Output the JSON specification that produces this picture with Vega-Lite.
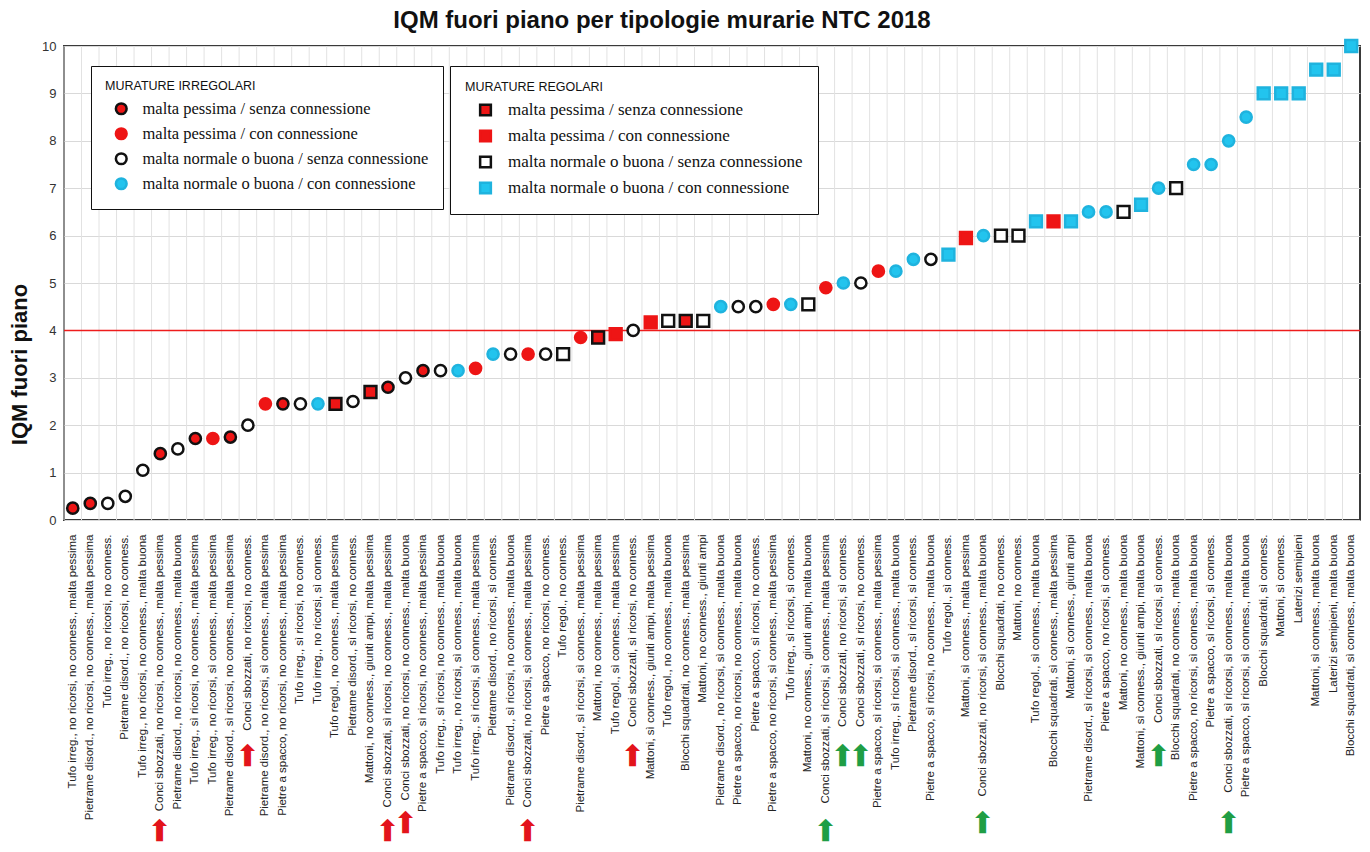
{
  "$schema": "https://vega.github.io/schema/vega-lite/v6.json",
  "width": 1296,
  "height": 474,
  "padding": {"left": 8, "top": 9, "right": 12, "bottom": 0},
  "background": "white",
  "title": {"text": "IQM fuori piano per tipologie murarie NTC 2018", "font": "Liberation Sans", "fontSize": 24, "fontWeight": "bold", "color": "#111111", "anchor": "middle", "frame": "group", "dx": -50, "offset": 2},
  "datasets": {
    "murature": [
      {"n": 1, "etichetta": "Tufo irreg., no ricorsi, no conness., malta pessima", "iqm": 0.25, "gruppo": "irregolare", "tipo": "malta pessima / senza connessione"},
      {"n": 2, "etichetta": "Pietrame disord., no ricorsi, no conness., malta pessima", "iqm": 0.35, "gruppo": "irregolare", "tipo": "malta pessima / senza connessione"},
      {"n": 3, "etichetta": "Tufo irreg., no ricorsi, no conness.", "iqm": 0.35, "gruppo": "irregolare", "tipo": "malta normale o buona / senza connessione"},
      {"n": 4, "etichetta": "Pietrame disord., no ricorsi, no conness.", "iqm": 0.5, "gruppo": "irregolare", "tipo": "malta normale o buona / senza connessione"},
      {"n": 5, "etichetta": "Tufo irreg., no ricorsi, no conness., malta buona", "iqm": 1.05, "gruppo": "irregolare", "tipo": "malta normale o buona / senza connessione"},
      {"n": 6, "etichetta": "Conci sbozzati, no ricorsi, no conness., malta pessima", "iqm": 1.4, "gruppo": "irregolare", "tipo": "malta pessima / senza connessione"},
      {"n": 7, "etichetta": "Pietrame disord., no ricorsi, no conness., malta buona", "iqm": 1.5, "gruppo": "irregolare", "tipo": "malta normale o buona / senza connessione"},
      {"n": 8, "etichetta": "Tufo irreg., sì ricorsi, no conness., malta pessima", "iqm": 1.72, "gruppo": "irregolare", "tipo": "malta pessima / senza connessione"},
      {"n": 9, "etichetta": "Tufo irreg., no ricorsi, sì conness., malta pessima", "iqm": 1.72, "gruppo": "irregolare", "tipo": "malta pessima / con connessione"},
      {"n": 10, "etichetta": "Pietrame disord., sì ricorsi, no conness., malta pessima", "iqm": 1.75, "gruppo": "irregolare", "tipo": "malta pessima / senza connessione"},
      {"n": 11, "etichetta": "Conci sbozzati, no ricorsi, no conness.", "iqm": 2.0, "gruppo": "irregolare", "tipo": "malta normale o buona / senza connessione"},
      {"n": 12, "etichetta": "Pietrame disord., no ricorsi, sì conness., malta pessima", "iqm": 2.45, "gruppo": "irregolare", "tipo": "malta pessima / con connessione"},
      {"n": 13, "etichetta": "Pietre a spacco, no ricorsi, no conness., malta pessima", "iqm": 2.45, "gruppo": "irregolare", "tipo": "malta pessima / senza connessione"},
      {"n": 14, "etichetta": "Tufo irreg., sì ricorsi, no conness.", "iqm": 2.45, "gruppo": "irregolare", "tipo": "malta normale o buona / senza connessione"},
      {"n": 15, "etichetta": "Tufo irreg., no ricorsi, sì conness.", "iqm": 2.45, "gruppo": "irregolare", "tipo": "malta normale o buona / con connessione"},
      {"n": 16, "etichetta": "Tufo regol., no conness., malta pessima", "iqm": 2.45, "gruppo": "regolare", "tipo": "malta pessima / senza connessione"},
      {"n": 17, "etichetta": "Pietrame disord., sì ricorsi, no conness.", "iqm": 2.5, "gruppo": "irregolare", "tipo": "malta normale o buona / senza connessione"},
      {"n": 18, "etichetta": "Mattoni, no conness., giunti ampi, malta pessima", "iqm": 2.7, "gruppo": "regolare", "tipo": "malta pessima / senza connessione"},
      {"n": 19, "etichetta": "Conci sbozzati, sì ricorsi, no conness., malta pessima", "iqm": 2.8, "gruppo": "irregolare", "tipo": "malta pessima / senza connessione"},
      {"n": 20, "etichetta": "Conci sbozzati, no ricorsi, no conness., malta buona", "iqm": 3.0, "gruppo": "irregolare", "tipo": "malta normale o buona / senza connessione"},
      {"n": 21, "etichetta": "Pietre a spacco, sì ricorsi, no conness., malta pessima", "iqm": 3.15, "gruppo": "irregolare", "tipo": "malta pessima / senza connessione"},
      {"n": 22, "etichetta": "Tufo irreg., sì ricorsi, no conness., malta buona", "iqm": 3.15, "gruppo": "irregolare", "tipo": "malta normale o buona / senza connessione"},
      {"n": 23, "etichetta": "Tufo irreg., no ricorsi, sì conness., malta buona", "iqm": 3.15, "gruppo": "irregolare", "tipo": "malta normale o buona / con connessione"},
      {"n": 24, "etichetta": "Tufo irreg., sì ricorsi, sì conness., malta pessima", "iqm": 3.2, "gruppo": "irregolare", "tipo": "malta pessima / con connessione"},
      {"n": 25, "etichetta": "Pietrame disord., no ricorsi, sì conness.", "iqm": 3.5, "gruppo": "irregolare", "tipo": "malta normale o buona / con connessione"},
      {"n": 26, "etichetta": "Pietrame disord., sì ricorsi, no conness., malta buona", "iqm": 3.5, "gruppo": "irregolare", "tipo": "malta normale o buona / senza connessione"},
      {"n": 27, "etichetta": "Conci sbozzati, no ricorsi, sì conness., malta pessima", "iqm": 3.5, "gruppo": "irregolare", "tipo": "malta pessima / con connessione"},
      {"n": 28, "etichetta": "Pietre a spacco, no ricorsi, no conness.", "iqm": 3.5, "gruppo": "irregolare", "tipo": "malta normale o buona / senza connessione"},
      {"n": 29, "etichetta": "Tufo regol., no conness.", "iqm": 3.5, "gruppo": "regolare", "tipo": "malta normale o buona / senza connessione"},
      {"n": 30, "etichetta": "Pietrame disord., sì ricorsi, sì conness., malta pessima", "iqm": 3.85, "gruppo": "irregolare", "tipo": "malta pessima / con connessione"},
      {"n": 31, "etichetta": "Mattoni, no conness., malta pessima", "iqm": 3.85, "gruppo": "regolare", "tipo": "malta pessima / senza connessione"},
      {"n": 32, "etichetta": "Tufo regol., sì conness., malta pessima", "iqm": 3.92, "gruppo": "regolare", "tipo": "malta pessima / con connessione"},
      {"n": 33, "etichetta": "Conci sbozzati, sì ricorsi, no conness.", "iqm": 4.0, "gruppo": "irregolare", "tipo": "malta normale o buona / senza connessione"},
      {"n": 34, "etichetta": "Mattoni, sì conness., giunti ampi, malta pessima", "iqm": 4.17, "gruppo": "regolare", "tipo": "malta pessima / con connessione"},
      {"n": 35, "etichetta": "Tufo regol., no conness., malta buona", "iqm": 4.2, "gruppo": "regolare", "tipo": "malta normale o buona / senza connessione"},
      {"n": 36, "etichetta": "Blocchi squadrati, no conness., malta pessima", "iqm": 4.2, "gruppo": "regolare", "tipo": "malta pessima / senza connessione"},
      {"n": 37, "etichetta": "Mattoni, no conness., giunti ampi", "iqm": 4.2, "gruppo": "regolare", "tipo": "malta normale o buona / senza connessione"},
      {"n": 38, "etichetta": "Pietrame disord., no ricorsi, sì conness., malta buona", "iqm": 4.5, "gruppo": "irregolare", "tipo": "malta normale o buona / con connessione"},
      {"n": 39, "etichetta": "Pietre a spacco, no ricorsi, no conness., malta buona", "iqm": 4.5, "gruppo": "irregolare", "tipo": "malta normale o buona / senza connessione"},
      {"n": 40, "etichetta": "Pietre a spacco, sì ricorsi, no conness.", "iqm": 4.5, "gruppo": "irregolare", "tipo": "malta normale o buona / senza connessione"},
      {"n": 41, "etichetta": "Pietre a spacco, no ricorsi, sì conness., malta pessima", "iqm": 4.55, "gruppo": "irregolare", "tipo": "malta pessima / con connessione"},
      {"n": 42, "etichetta": "Tufo irreg., sì ricorsi, sì conness.", "iqm": 4.55, "gruppo": "irregolare", "tipo": "malta normale o buona / con connessione"},
      {"n": 43, "etichetta": "Mattoni, no conness., giunti ampi, malta buona", "iqm": 4.55, "gruppo": "regolare", "tipo": "malta normale o buona / senza connessione"},
      {"n": 44, "etichetta": "Conci sbozzati, sì ricorsi, sì conness., malta pessima", "iqm": 4.9, "gruppo": "irregolare", "tipo": "malta pessima / con connessione"},
      {"n": 45, "etichetta": "Conci sbozzati, no ricorsi, sì conness.", "iqm": 5.0, "gruppo": "irregolare", "tipo": "malta normale o buona / con connessione"},
      {"n": 46, "etichetta": "Conci sbozzati, sì ricorsi, no conness. ", "iqm": 5.0, "gruppo": "irregolare", "tipo": "malta normale o buona / senza connessione"},
      {"n": 47, "etichetta": "Pietre a spacco, sì ricorsi, sì conness., malta pessima", "iqm": 5.25, "gruppo": "irregolare", "tipo": "malta pessima / con connessione"},
      {"n": 48, "etichetta": "Tufo irreg., sì ricorsi, sì conness., malta buona", "iqm": 5.25, "gruppo": "irregolare", "tipo": "malta normale o buona / con connessione"},
      {"n": 49, "etichetta": "Pietrame disord., sì ricorsi, sì conness.", "iqm": 5.5, "gruppo": "irregolare", "tipo": "malta normale o buona / con connessione"},
      {"n": 50, "etichetta": "Pietre a spacco, sì ricorsi, no conness., malta buona", "iqm": 5.5, "gruppo": "irregolare", "tipo": "malta normale o buona / senza connessione"},
      {"n": 51, "etichetta": "Tufo regol., sì conness.", "iqm": 5.6, "gruppo": "regolare", "tipo": "malta normale o buona / con connessione"},
      {"n": 52, "etichetta": "Mattoni, sì conness., malta pessima", "iqm": 5.95, "gruppo": "regolare", "tipo": "malta pessima / con connessione"},
      {"n": 53, "etichetta": "Conci sbozzati, no ricorsi, sì conness., malta buona", "iqm": 6.0, "gruppo": "irregolare", "tipo": "malta normale o buona / con connessione"},
      {"n": 54, "etichetta": "Blocchi squadrati, no conness.", "iqm": 6.0, "gruppo": "regolare", "tipo": "malta normale o buona / senza connessione"},
      {"n": 55, "etichetta": "Mattoni, no conness.", "iqm": 6.0, "gruppo": "regolare", "tipo": "malta normale o buona / senza connessione"},
      {"n": 56, "etichetta": "Tufo regol., sì conness., malta buona", "iqm": 6.3, "gruppo": "regolare", "tipo": "malta normale o buona / con connessione"},
      {"n": 57, "etichetta": "Blocchi squadrati, sì conness., malta pessima", "iqm": 6.3, "gruppo": "regolare", "tipo": "malta pessima / con connessione"},
      {"n": 58, "etichetta": "Mattoni, sì conness., giunti ampi", "iqm": 6.3, "gruppo": "regolare", "tipo": "malta normale o buona / con connessione"},
      {"n": 59, "etichetta": "Pietrame disord., sì ricorsi, sì conness., malta buona", "iqm": 6.5, "gruppo": "irregolare", "tipo": "malta normale o buona / con connessione"},
      {"n": 60, "etichetta": "Pietre a spacco, no ricorsi, sì conness.", "iqm": 6.5, "gruppo": "irregolare", "tipo": "malta normale o buona / con connessione"},
      {"n": 61, "etichetta": "Mattoni, no conness., malta buona", "iqm": 6.5, "gruppo": "regolare", "tipo": "malta normale o buona / senza connessione"},
      {"n": 62, "etichetta": "Mattoni, sì conness., giunti ampi, malta buona", "iqm": 6.65, "gruppo": "regolare", "tipo": "malta normale o buona / con connessione"},
      {"n": 63, "etichetta": "Conci sbozzati, sì ricorsi, sì conness.", "iqm": 7.0, "gruppo": "irregolare", "tipo": "malta normale o buona / con connessione"},
      {"n": 64, "etichetta": "Blocchi squadrati, no conness., malta buona", "iqm": 7.0, "gruppo": "regolare", "tipo": "malta normale o buona / senza connessione"},
      {"n": 65, "etichetta": "Pietre a spacco, no ricorsi, sì conness., malta buona", "iqm": 7.5, "gruppo": "irregolare", "tipo": "malta normale o buona / con connessione"},
      {"n": 66, "etichetta": "Pietre a spacco, sì ricorsi, sì conness.", "iqm": 7.5, "gruppo": "irregolare", "tipo": "malta normale o buona / con connessione"},
      {"n": 67, "etichetta": "Conci sbozzati, sì ricorsi, sì conness., malta buona", "iqm": 8.0, "gruppo": "irregolare", "tipo": "malta normale o buona / con connessione"},
      {"n": 68, "etichetta": "Pietre a spacco, sì ricorsi, sì conness., malta buona", "iqm": 8.5, "gruppo": "irregolare", "tipo": "malta normale o buona / con connessione"},
      {"n": 69, "etichetta": "Blocchi squadrati, sì conness.", "iqm": 9.0, "gruppo": "regolare", "tipo": "malta normale o buona / con connessione"},
      {"n": 70, "etichetta": "Mattoni, sì conness.", "iqm": 9.0, "gruppo": "regolare", "tipo": "malta normale o buona / con connessione"},
      {"n": 71, "etichetta": "Laterizi semipieni", "iqm": 9.0, "gruppo": "regolare", "tipo": "malta normale o buona / con connessione"},
      {"n": 72, "etichetta": "Mattoni, sì conness., malta buona", "iqm": 9.5, "gruppo": "regolare", "tipo": "malta normale o buona / con connessione"},
      {"n": 73, "etichetta": "Laterizi semipieni, malta buona", "iqm": 9.5, "gruppo": "regolare", "tipo": "malta normale o buona / con connessione"},
      {"n": 74, "etichetta": "Blocchi squadrati, sì conness., malta buona", "iqm": 10.0, "gruppo": "regolare", "tipo": "malta normale o buona / con connessione"}
    ],
    "soglia": [{"soglia": 4}]
  },
  "layer": [
    {
      "data": {"name": "murature"},
      "mark": {"type": "rule", "color": "#e2e2e2", "strokeWidth": 1},
      "encoding": {
        "x": {
          "field": "etichetta", "type": "nominal", "bandPosition": 0,
          "sort": {"field": "n", "op": "min"},
          "scale": {"type": "band", "paddingInner": 0, "paddingOuter": 0},
          "axis": {"orient": "bottom", "zindex": 1, "title": null}
        }
      }
    },
    {
      "data": {"name": "soglia"},
      "mark": {"type": "rule", "color": "#ee1c1c", "strokeWidth": 1.5},
      "encoding": {
        "y": {"field": "soglia", "type": "quantitative", "title": "IQM fuori piano", "scale": {"domain": [0, 10]}}
      }
    },
    {
      "data": {"name": "murature"},
      "transform": [{"filter": "datum.gruppo === 'irregolare'"}],
      "mark": {"type": "circle", "size": 125, "strokeWidth": 2.5, "opacity": 1},
      "encoding": {
        "x": {
          "field": "etichetta", "type": "nominal",
          "sort": {"field": "n", "op": "min"},
          "axis": {
            "orient": "bottom", "zindex": 0, "title": null,
            "labelFontSize": 30, "labelFont": "Liberation Sans",
            "labelExpr": "indexof(datum.value, 'Conci sbozzati') === 0 ? '➡' + pad('', round(length(datum.value) * 0.6175 + 0.6), '\u00a0') + '\u200b' : ''",
            "labelColor": {"condition": {"test": "indexof(['Conci sbozzati, sì ricorsi, sì conness., malta pessima', 'Conci sbozzati, no ricorsi, sì conness.', 'Conci sbozzati, sì ricorsi, no conness. ', 'Conci sbozzati, no ricorsi, sì conness., malta buona', 'Conci sbozzati, sì ricorsi, sì conness.', 'Conci sbozzati, sì ricorsi, sì conness., malta buona'], datum.value) >= 0", "value": "#1f9e45"}, "value": "#e3141b"}
          }
        },
        "y": {"field": "iqm", "type": "quantitative", "title": "IQM fuori piano"},
        "fill": {
          "field": "tipo", "type": "nominal",
          "scale": {"domain": ["malta pessima / senza connessione", "malta pessima / con connessione", "malta normale o buona / senza connessione", "malta normale o buona / con connessione"], "range": ["#ee1515", "#ee1515", "#ffffff", "#22c4ee"]},
          "legend": {"title": "MURATURE IRREGOLARI", "orient": "none", "legendX": 27, "legendY": 20, "labelFontSize": 16.5, "padding": 14, "symbolOffset": 8, "labelOffset": 13, "rowPadding": 3, "encode": {"legend": {"update": {"strokeWidth": {"value": 2}}}}}
        },
        "stroke": {
          "field": "tipo", "type": "nominal",
          "scale": {"domain": ["malta pessima / senza connessione", "malta pessima / con connessione", "malta normale o buona / senza connessione", "malta normale o buona / con connessione"], "range": ["#111111", "#ee1515", "#111111", "#1fb3de"]},
          "legend": {"title": "MURATURE IRREGOLARI", "orient": "none", "legendX": 27, "legendY": 20, "labelFontSize": 16.5, "padding": 14, "symbolOffset": 8, "labelOffset": 13, "rowPadding": 3, "encode": {"legend": {"update": {"strokeWidth": {"value": 2}}}}}
        }
      }
    },
    {
      "data": {"name": "murature"},
      "transform": [{"filter": "datum.gruppo === 'regolare'"}],
      "mark": {"type": "square", "size": 140, "strokeWidth": 2.5, "opacity": 1},
      "encoding": {
        "x": {"field": "etichetta", "type": "nominal", "sort": {"field": "n", "op": "min"}, "axis": null},
        "y": {"field": "iqm", "type": "quantitative", "title": "IQM fuori piano"},
        "fill": {
          "field": "tipo", "type": "nominal",
          "scale": {"domain": ["malta pessima / senza connessione", "malta pessima / con connessione", "malta normale o buona / senza connessione", "malta normale o buona / con connessione"], "range": ["#ee1515", "#ee1515", "#ffffff", "#22c4ee"]},
          "legend": {"title": "MURATURE REGOLARI", "orient": "none", "legendX": 386, "legendY": 20, "labelFontSize": 17, "padding": 15, "symbolOffset": 12, "labelOffset": 14, "rowPadding": 5, "encode": {"legend": {"update": {"strokeWidth": {"value": 2}}}}}
        },
        "stroke": {
          "field": "tipo", "type": "nominal",
          "scale": {"domain": ["malta pessima / senza connessione", "malta pessima / con connessione", "malta normale o buona / senza connessione", "malta normale o buona / con connessione"], "range": ["#111111", "#ee1515", "#111111", "#1fb3de"]},
          "legend": {"title": "MURATURE REGOLARI", "orient": "none", "legendX": 386, "legendY": 20, "labelFontSize": 17, "padding": 15, "symbolOffset": 12, "labelOffset": 14, "rowPadding": 5, "encode": {"legend": {"update": {"strokeWidth": {"value": 2}}}}}
        }
      }
    }
  ],
  "resolve": {
    "scale": {"fill": "independent", "stroke": "independent"},
    "axis": {"x": "independent"}
  },
  "config": {
    "view": {"stroke": "#3a3a3a", "strokeWidth": 2},
    "axisX": {
      "labelAngle": -90, "labelFont": "Liberation Sans", "labelFontSize": 11.5, "labelColor": "#222222",
      "labelLimit": 800, "labelPadding": 14, "labelOverlap": false, "ticks": false, "domain": false, "grid": false
    },
    "axisY": {
      "grid": true, "gridColor": "#d9d9d9", "tickCount": 10, "ticks": false, "domain": false,
      "labelFont": "Liberation Sans", "labelFontSize": 13, "labelColor": "#333333", "labelPadding": 8,
      "titleFont": "Liberation Sans", "titleFontSize": 22, "titleFontWeight": "bold", "titleColor": "#111111", "titlePadding": 10,
      "titleY": 318
    },
    "legend": {
      "titleFont": "Liberation Sans", "titleFontSize": 12.5, "titleFontWeight": "normal", "titleColor": "#111111", "titlePadding": 8,
      "labelFont": "Liberation Serif", "labelFontSize": 16.5, "labelColor": "#111111", "labelLimit": 600, "labelOffset": 13,
      "symbolSize": 115, "symbolStrokeWidth": 2.5, "symbolOffset": 8, "rowPadding": 3, "padding": 14,
      "strokeColor": "#111111", "fillColor": "#ffffff"
    }
  }
}
